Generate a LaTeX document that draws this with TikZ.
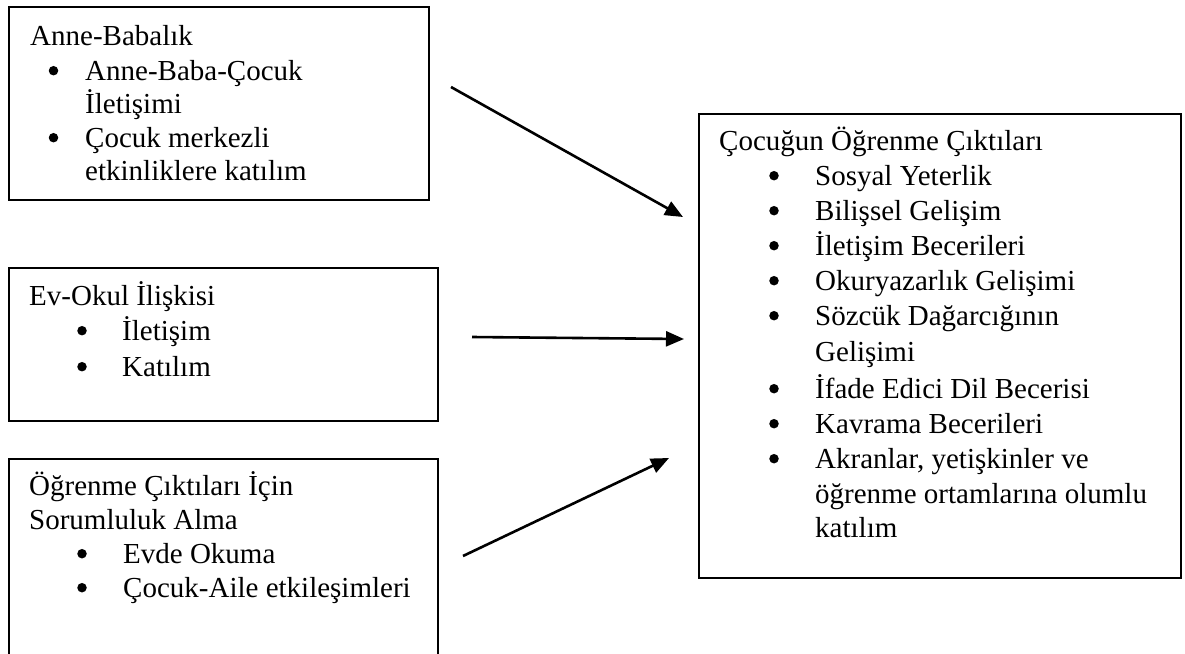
\documentclass[tikz,border=0pt]{standalone}
\usepackage{fontspec}
\setmainfont{Liberation Serif}
\usetikzlibrary{arrows.meta}
\begin{document}
\begin{tikzpicture}[x=1pt,y=-1pt,
  txt/.style={anchor=base west, inner sep=0pt, font=\fontsize{29}{35}\selectfont},
  dot/.style={circle, fill, inner sep=0pt, minimum size=9.5pt},
  boxs/.style={draw, line width=1.8pt, anchor=north west, inner sep=0pt},
  arr/.style={line width=2.6pt, -{Triangle[length=18pt,width=15pt]}}]
\useasboundingbox (0,0) rectangle (1185,653);
\clip (0,0) rectangle (1185,653);
% boxes
\node[boxs, minimum width=420pt, minimum height=193pt] (b1) at (8,6) {};
\node[boxs, minimum width=429pt, minimum height=153pt] (b2) at (8,267) {};
\node[boxs, minimum width=429pt, minimum height=222pt] (b3) at (8,458) {};
\node[boxs, minimum width=482pt, minimum height=464pt] (b4) at (698,113) {};
% box 1 text
\node[txt] (t1) at (30,45) {Anne-Babalık};
\node[dot] (t1b1) at (53.5,70.7) {};
\node[txt] (t1i1) at (85,80) {Anne-Baba-Çocuk};
\node[txt] (t1i1b) at (85,113) {İletişimi};
\node[dot] (t1b2) at (53.5,137.7) {};
\node[txt] (t1i2) at (85,147) {Çocuk merkezli};
\node[txt] (t1i2b) at (85,180) {etkinliklere katılım};
% box 2 text
\node[txt] (t2) at (29,305) {Ev-Okul İlişkisi};
\node[dot] (t2b1) at (82,330.7) {};
\node[txt] (t2i1) at (122,340) {İletişim};
\node[dot] (t2b2) at (82,366.7) {};
\node[txt] (t2i2) at (122,376) {Katılım};
% box 3 text
\node[txt] (t3) at (29,495) {Öğrenme Çıktıları İçin};
\node[txt] (t3b) at (29,529) {Sorumluluk Alma};
\node[dot] (t3b1) at (82,553.7) {};
\node[txt] (t3i1) at (123,563) {Evde Okuma};
\node[dot] (t3b2) at (82,587.7) {};
\node[txt] (t3i2) at (123,597) {Çocuk-Aile etkileşimleri};
% box 4 text
\node[txt] (t4) at (719,150) {Çocuğun Öğrenme Çıktıları};
\foreach \y/\t [count=\i] in {185/Sosyal Yeterlik, 220/Bilişsel Gelişim, 255/İletişim Becerileri, 290/Okuryazarlık Gelişimi, 325/Sözcük Dağarcığının, 398/İfade Edici Dil Becerisi, 433/Kavrama Becerileri, 468/{Akranlar, yetişkinler ve}}{
  \node[dot] (t4b\i) at (774,\y-9.3) {};
  \node[txt] (t4i\i) at (815,\y) {\t};
}
\node[txt] (t4c1) at (815,361) {Gelişimi};
\node[txt] (t4c2) at (815,503) {öğrenme ortamlarına olumlu};
\node[txt] (t4c3) at (815,537) {katılım};
% arrows
\coordinate (a1s) at (451,87);
\coordinate (a1e) at (683,217);
\coordinate (a2s) at (472,337);
\coordinate (a2e) at (684,339);
\coordinate (a3s) at (463,556);
\coordinate (a3e) at (669,458);
\draw[arr] (a1s) -- (a1e);
\draw[arr] (a2s) -- (a2e);
\draw[arr] (a3s) -- (a3e);
\end{tikzpicture}
\end{document}
